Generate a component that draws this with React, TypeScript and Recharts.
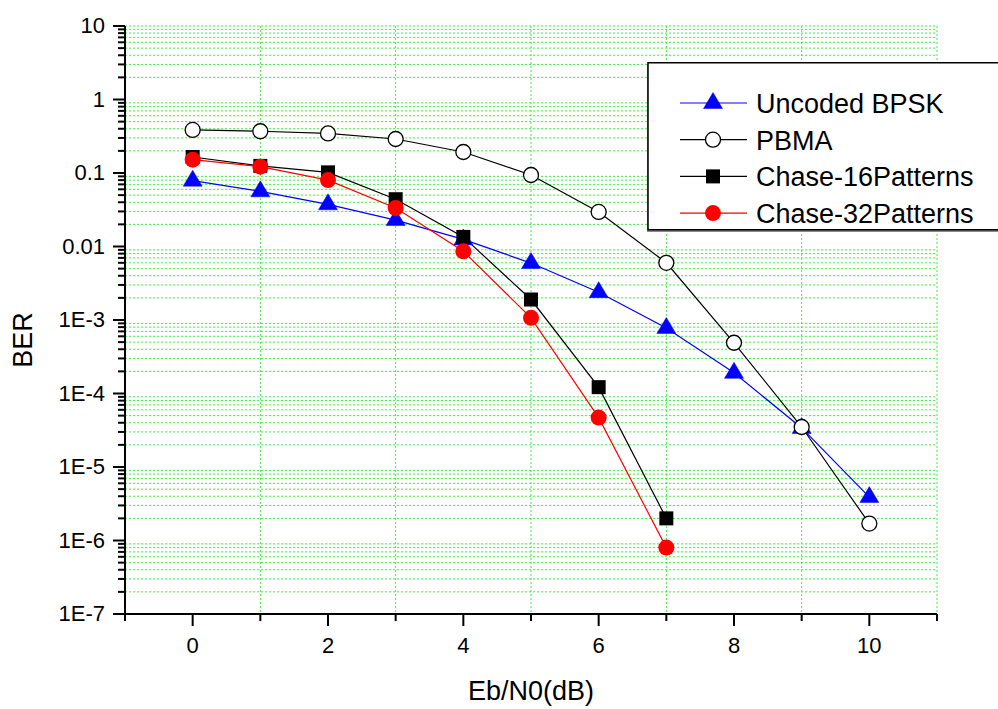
import React from 'react';
import { LineChart, Line, XAxis, YAxis, CartesianGrid } from 'recharts';

const ebn0 = [0, 1, 2, 3, 4, 5, 6, 7, 8, 9, 10];
const uncodedBPSK = [0.0786, 0.0563, 0.0375, 0.0229, 0.0125, 0.00595, 0.00239, 7.8e-4, 1.91e-4, 3.4e-5, 3.9e-6];
const pbma = [0.385, 0.37, 0.345, 0.29, 0.193, 0.094, 0.0295, 0.006, 4.9e-4, 3.5e-5, 1.7e-6];
const chase16 = [0.165, 0.125, 0.102, 0.044, 0.0135, 1.9e-3, 1.22e-4, 2.0e-6];
const chase32 = [0.152, 0.122, 0.08, 0.0334, 8.6e-3, 1.07e-3, 4.7e-5, 8.0e-7];

const seriesNames = ['Uncoded BPSK', 'PBMA', 'Chase-16Patterns', 'Chase-32Patterns'];

const xMajorTicks = [0, 2, 4, 6, 8, 10];
const xMinorTicks = [-1, 1, 3, 5, 7, 9, 11];
const xGridValues = [1, 3, 5, 7, 9];
const yMajorTicks = [1e-7, 1e-6, 1e-5, 1e-4, 1e-3, 0.01, 0.1, 1, 10];
const yMajorLabels = ['1E-7', '1E-6', '1E-5', '1E-4', '1E-3', '0.01', '0.1', '1', '10'];
const yMinorMultipliers = [2, 3, 4, 5, 6, 7, 8, 9];

const yMinorTicks: number[] = [];
for (let i = 0; i < yMajorTicks.length - 1; i++) {
  for (const m of yMinorMultipliers) {
    yMinorTicks.push(Number((m * yMajorTicks[i]).toPrecision(3)));
  }
}
const yAllTicks = [...yMajorTicks, ...yMinorTicks].sort((a, b) => a - b);
const xAllTicks = [...xMajorTicks, ...xMinorTicks].sort((a, b) => a - b);

const data = ebn0.map((x, i) => ({
  x,
  unc: uncodedBPSK[i],
  pbma: pbma[i],
  c16: chase16[i] !== undefined ? chase16[i] : null,
  c32: chase32[i] !== undefined ? chase32[i] : null,
}));

const FONT = 'Liberation Sans, Arial, Helvetica, sans-serif';
const GRID = '#3cf23c';

const valid = (p: any) => p && p.cx != null && p.cy != null && !isNaN(p.cx) && !isNaN(p.cy);

const triShape = (cx: number, cy: number, k?: any) => (
  <polygon key={k} points={`${cx},${cy - 10.5} ${cx - 9.5},${cy + 5.5} ${cx + 9.5},${cy + 5.5}`} fill="#0000ff" stroke="#0000ff" strokeWidth={0.5} />
);
const openCircle = (cx: number, cy: number, k?: any) => (
  <circle key={k} cx={cx} cy={cy} r={7.5} fill="#fff" stroke="#000" strokeWidth={1.3} />
);
const square = (cx: number, cy: number, k?: any) => (
  <rect key={k} x={cx - 7} y={cy - 7} width={14} height={14} fill="#000" />
);
const redCircle = (cx: number, cy: number, k?: any) => (
  <circle key={k} cx={cx} cy={cy} r={8} fill="#ff0000" />
);

const shapes = [triShape, openCircle, square, redCircle];
const colors = ['#0000ff', '#000000', '#000000', '#ff0000'];

const makeDot = (shape: any) => (props: any) => {
  const k = `dot-${props.index}`;
  if (!valid(props)) return <g key={k} />;
  return shape(props.cx, props.cy, k);
};

const YTick = (props: any) => {
  const { x, y, payload } = props;
  const v = payload.value;
  const idx = yMajorTicks.findIndex((t) => Math.abs(Math.log10(t) - Math.log10(v)) < 1e-6);
  const major = idx >= 0;
  return (
    <g>
      <line x1={x - (major ? 12 : 7)} x2={x} y1={y} y2={y} stroke="#000" strokeWidth={2} />
      {major && (
        <text x={x - 20} y={y} dy="0.33em" textAnchor="end" fontSize={22} fontFamily={FONT} fill="#000">
          {yMajorLabels[idx]}
        </text>
      )}
    </g>
  );
};

const XTick = (props: any) => {
  const { x, y, payload } = props;
  const v = payload.value;
  const major = xMajorTicks.includes(v);
  return (
    <g>
      <line x1={x} x2={x} y1={y} y2={y + (major ? 12 : 7)} stroke="#000" strokeWidth={2} />
      {major && (
        <text x={x} y={y + 39} textAnchor="middle" fontSize={22} fontFamily={FONT} fill="#000">
          {v}
        </text>
      )}
    </g>
  );
};

const LegendBox = () => (
  <svg width={360} height={172} style={{ display: 'block', overflow: 'visible' }}>
    <rect x={0} y={2} width={400} height={168} fill="#8a8a8a" />
    <rect x={1} y={0.75} width={400} height={167} fill="#fff" stroke="#000" strokeWidth={1.5} />
    {seriesNames.map((name, i) => {
      const cy = 41 + i * 36.7;
      return (
        <g key={name}>
          <line x1={33} x2={100} y1={cy} y2={cy} stroke={colors[i]} strokeWidth={1.2} />
          {shapes[i](66, cy)}
          <text x={109} y={cy + 10} fontSize={27} fontFamily={FONT} fill="#000">
            {name}
          </text>
        </g>
      );
    })}
  </svg>
);

const YTitle = (props: any) => {
  const vb = props.viewBox;
  return (
    <text
      transform={`translate(${vb.x + 32},${vb.y + vb.height / 2 + 20}) rotate(-90)`}
      textAnchor="middle"
      fontSize={27}
      fontFamily={FONT}
      fill="#000"
    >
      BER
    </text>
  );
};

const XTitle = (props: any) => {
  const vb = props.viewBox;
  return (
    <text x={vb.x + vb.width / 2} y={vb.y + 86} textAnchor="middle" fontSize={27} fontFamily={FONT} fill="#000">
      Eb/N0(dB)
    </text>
  );
};

export default function App() {
  return (
    <div style={{ position: 'absolute', left: 0, top: 0, width: 998, height: 709, overflow: 'hidden', background: '#fff' }}>
      <LineChart width={998} height={709} data={data} margin={{ top: 26, right: 61, left: 0, bottom: 0 }}>
        <CartesianGrid
          xAxisId="grid"
          yAxisId="grid"
          stroke={GRID}
          strokeDasharray="2 2"
          strokeWidth={1}
        />
        <XAxis
          xAxisId="grid"
          dataKey="x"
          type="number"
          domain={[-1, 11]}
          ticks={xGridValues}
          interval={0}
          allowDataOverflow
          hide
        />
        <YAxis
          yAxisId="grid"
          type="number"
          scale="log"
          domain={[1e-7, 10]}
          ticks={yMinorTicks}
          interval={0}
          allowDataOverflow
          hide
        />
        <XAxis
          dataKey="x"
          type="number"
          domain={[-1, 11]}
          ticks={xAllTicks}
          interval={0}
          tickSize={0}
          tickMargin={0}
          tick={<XTick />}
          tickLine={false}
          axisLine={{ stroke: '#000', strokeWidth: 2 }}
          height={95}
          allowDataOverflow
          label={{ content: <XTitle /> } as any}
        />
        <YAxis
          type="number"
          scale="log"
          domain={[1e-7, 10]}
          ticks={yAllTicks}
          interval={0}
          tickSize={0}
          tickMargin={0}
          tick={<YTick />}
          tickLine={false}
          axisLine={{ stroke: '#000', strokeWidth: 2 }}
          width={125}
          allowDataOverflow
          label={{ content: <YTitle /> } as any}
        />
        <Line dataKey="unc" name={seriesNames[0]} stroke={colors[0]} strokeWidth={1.2} dot={makeDot(triShape)} activeDot={false} isAnimationActive={false} />
        <Line dataKey="pbma" name={seriesNames[1]} stroke={colors[1]} strokeWidth={1.2} dot={makeDot(openCircle)} activeDot={false} isAnimationActive={false} />
        <Line dataKey="c16" name={seriesNames[2]} stroke={colors[2]} strokeWidth={1.2} dot={makeDot(square)} activeDot={false} isAnimationActive={false} />
        <Line dataKey="c32" name={seriesNames[3]} stroke={colors[3]} strokeWidth={1.2} dot={makeDot(redCircle)} activeDot={false} isAnimationActive={false} />
      </LineChart>
      <div style={{ position: 'absolute', left: 647, top: 62 }}>
        <LegendBox />
      </div>
    </div>
  );
}
